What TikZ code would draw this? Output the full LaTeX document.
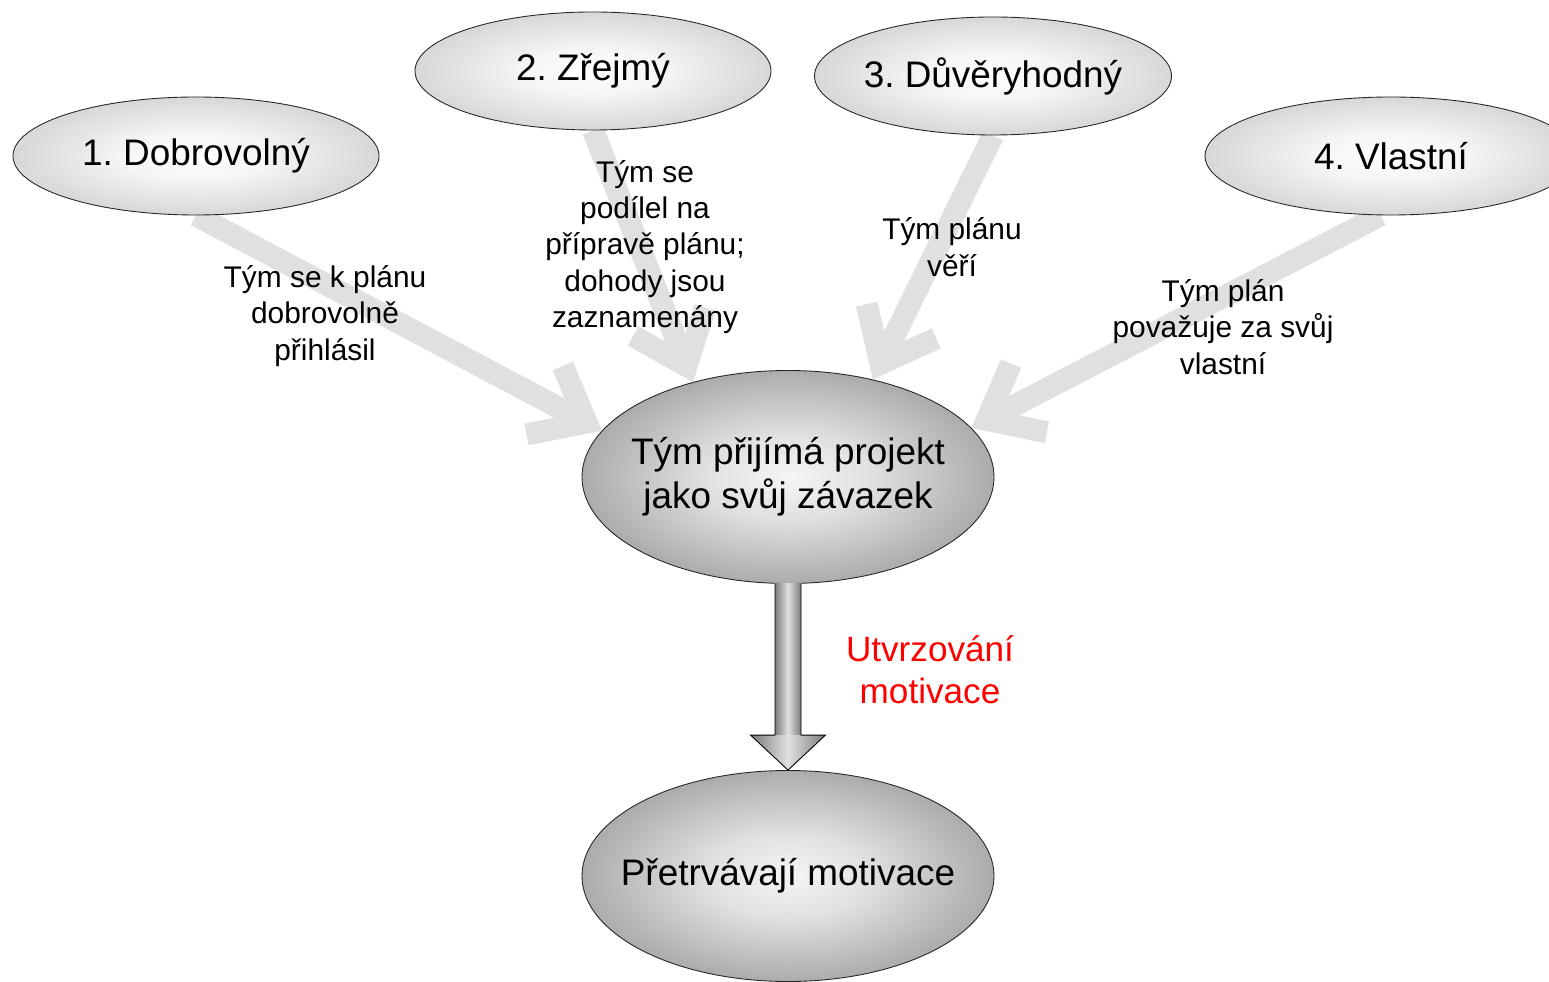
\documentclass[tikz,border=0pt]{standalone}
\usepackage{fontspec}
\setmainfont{Liberation Sans}
\usepackage{xcolor}
\usetikzlibrary{arrows.meta, calc, backgrounds, shapes.geometric}

\pgfdeclareradialshading{topglow}{\pgfpoint{0bp}{0bp}}{color(0bp)=(white); color(10bp)=(black!4); color(36bp)=(black!24); color(50bp)=(black!24)}
\pgfdeclareradialshading{bigglow}{\pgfpoint{0bp}{0bp}}{color(0bp)=(black!4); color(10bp)=(black!12); color(36bp)=(black!48); color(50bp)=(black!48)}

\tikzset{
  topoval/.style={ellipse, draw=black!85, line width=0.5pt, shading=topglow,
    minimum height=2.36cm, inner xsep=-1cm, inner ysep=0pt, font=\fontsize{21}{25}\selectfont},
  bigoval/.style={ellipse, draw=black!85, line width=0.5pt, shading=bigglow,
    minimum width=8.24cm, minimum height=4.26cm, inner xsep=-1.5cm, inner ysep=0pt, align=center,
    font=\fontsize{21}{25}\selectfont},
  note/.style={align=center, font=\fontsize{17}{20.7}\selectfont},
  feed/.style={line width=0.44cm, black!12, -{Straight Barb[length=0.95cm, width=1.55cm]}},
  shaftshade/.style={left color=black!52, right color=black!52, middle color=black!12}
}

\begin{document}
\frenchspacing
\begin{tikzpicture}
\useasboundingbox (0,0) rectangle (30.98,-19.64);

\node[topoval, minimum width=7.32cm] (e1) at (3.92,-3.12) {1. Dobrovolný};
\node[topoval, minimum width=7.12cm] (e2) at (11.86,-1.42) {2. Zřejmý};
\node[topoval, minimum width=7.14cm] (e3) at (19.86,-1.52) {3. Důvěryhodný};
\node[topoval, minimum width=7.44cm] (e4) at (27.82,-3.12) {4. Vlastní};
\node[bigoval] (c) at (15.76,-9.54) {Tým přijímá projekt\\jako svůj závazek};
\node[bigoval, minimum height=4.22cm] (b) at (15.76,-17.52) {Přetrvávají motivace};

% four ways into the commitment
\begin{pgfonlayer}{background}
\draw[feed] (e1.south) -- (c.166);
\draw[feed] (e2.south) -- (c.135);
\draw[feed] (e3.south) -- (c.49);
\draw[feed] (e4.-100) -- (c.15);
\end{pgfonlayer}

\node[note] (t1) at (6.5,-6.32) {Tým se k plánu\\dobrovolně\\přihlásil};
\node[note] (t2) at (12.9,-4.94) {Tým se\\podílel na\\přípravě plánu;\\dohody jsou\\zaznamenány};
\node[note] (t3) at (19.04,-4.94) {Tým plánu\\věří};
\node[note] (t4) at (24.46,-6.54) {Tým plán\\považuje za svůj\\vlastní};

% down arrow
\shade[shaftshade] ($(c.south)+(-0.26,0)$) rectangle ($(b.north)+(0.26,0.7)$);
\shade[shaftshade] ($(b.north)+(-0.75,0.7)$) -- (b.north) -- ($(b.north)+(0.75,0.7)$) -- cycle;
\draw[line width=0.5pt] ($(c.south)+(-0.26,0)$) -- ($(b.north)+(-0.26,0.7)$) -- ++(-0.49,0)
  -- (b.north) -- ++(0.75,0.7) -- ++(-0.49,0) -- ($(c.south)+(0.26,0)$);
\node[red, align=center, font=\fontsize{20}{24}\selectfont] (m) at (18.6,-13.4) {Utvrzování\\motivace};
\end{tikzpicture}
\end{document}
